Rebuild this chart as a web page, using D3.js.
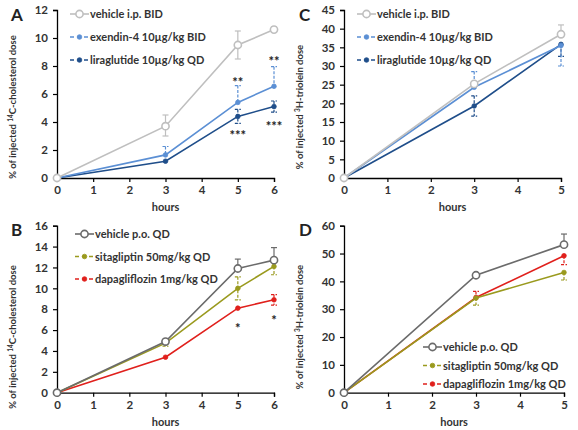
<!DOCTYPE html>
<html>
<head>
<meta charset="utf-8">
<script src="https://cdn.jsdelivr.net/npm/d3@7"></script>
<style>
  body { margin: 0; background: #fff; }
  svg { font-family: Lato, "Open Sans", sans-serif; }
</style>
</head>
<body>
<svg id="chart" width="578" height="430"></svg>
<script>
// hours sampled
const hoursCholesterol = [0, 3, 5, 6];
const hoursTriolein = [0, 3, 5];

// panel A: 14C-cholesterol, GLP-1 agonists
const aVehicle = [0, 3.7, 9.5, 10.6];
const aVehicleHi = [0, 0.8, 1.0, 0.2];
const aVehicleLo = [0, 0.7, 1.0, 0];
const aExendin = [0, 1.65, 5.4, 6.55];
const aExendinHi = [0, 0.6, 1.2, 1.4];
const aExendinLo = [0, 0, 0, 0];
const aLira = [0, 1.2, 4.4, 5.1];
const aLiraHi = [0, 0, 0.5, 0.4];
const aLiraLo = [0, 0, 0.5, 0.4];

// panel C: 3H-triolein, GLP-1 agonists
const cVehicle = [0, 25.2, 38.5];
const cVehicleHi = [0, 0, 2.5];
const cVehicleLo = [0, 0, 0];
const cExendin = [0, 24.3, 35.5];
const cExendinHi = [0, 4.2, 0];
const cExendinLo = [0, 0, 5.5];
const cLira = [0, 19.3, 35.8];
const cLiraHi = [0, 2.7, 0];
const cLiraLo = [0, 2.7, 3.2];

// panel B: 14C-cholesterol, oral drugs
const bVehicle = [0, 4.9, 11.9, 12.7];
const bVehicleHi = [0, 0.2, 0.9, 1.2];
const bVehicleLo = [0, 0, 0, 0];
const bSita = [0, 4.75, 10.0, 12.1];
const bSitaHi = [0, 0, 1.1, 0];
const bSitaLo = [0, 0.3, 1.1, 0.8];
const bDapa = [0, 3.4, 8.1, 8.9];
const bDapaHi = [0, 0, 0, 0.5];
const bDapaLo = [0, 0, 0, 0.5];

// panel D: 3H-triolein, oral drugs
const dVehicle = [0, 42.2, 53.2];
const dVehicleHi = [0, 0, 3.8];
const dVehicleLo = [0, 0, 0];
const dSita = [0, 34.0, 43.2];
const dSitaHi = [0, 0, 0];
const dSitaLo = [0, 2.5, 2.7];
const dDapa = [0, 34.2, 49.2];
const dDapaHi = [0, 2.2, 0];
const dDapaLo = [0, 0, 3.2];

// tick labels
const ticksA = [0, 2, 4, 6, 8, 10, 12];
const ticksB = [0, 2, 4, 6, 8, 10, 12, 14, 16];
const ticksC = [0, 5, 10, 15, 20, 25, 30, 35, 40, 45];
const ticksD = [0, 10, 20, 30, 40, 50, 60];
const ticksHours6 = [0, 1, 2, 3, 4, 5, 6];
const ticksHours5 = [0, 1, 2, 3, 4, 5];

// significance marks: [hour, y value at centre, text]
const starsA = [[5, 7.07, "**"], [6, 8.57, "**"], [5, 3.29, "***"], [6, 3.93, "***"]];
const starsB = [[5, 6.49, "*"], [6, 7.25, "*"]];

const col = {
  vehGlp: "#bfbfbf", exendin: "#5b8fd4", lira: "#1f4e8a",
  vehOral: "#6b6b6b", sita: "#9a9a1e", dapa: "#e0201c"
};

const svg = d3.select("#chart");

function panel(opt) {
  const g = svg.append("g");
  const x = d3.scaleLinear().domain(opt.xDomain).range(opt.xRange);
  const y = d3.scaleLinear().domain(opt.yDomain).range(opt.yRange);

  const yAxis = g.append("g")
    .attr("transform", `translate(${opt.xRange[0]},0)`)
    .call(d3.axisLeft(y).tickValues(opt.yTicks).tickFormat(d3.format("d"))
      .tickSize(4).tickPadding(5));
  const xAxis = g.append("g")
    .attr("transform", `translate(0,${opt.yRange[0]})`)
    .call(d3.axisBottom(x).tickValues(opt.xTicks).tickFormat(d3.format("d"))
      .tickSize(4).tickPadding(4));
  [xAxis, yAxis].forEach(a => {
    a.select(".domain").attr("stroke", "#000").attr("stroke-width", 1.3);
    a.selectAll(".tick line").attr("stroke", "#000").attr("stroke-width", 1.2);
    a.selectAll(".tick text")
      .attr("fill", "#333").attr("font-size", 11.5).attr("font-weight", 700)
      .attr("font-family", "Lato, sans-serif");
  });

  // axis titles
  g.append("text")
    .attr("x", (opt.xRange[0] + opt.xRange[1]) / 2)
    .attr("y", opt.yRange[0] + 33)
    .attr("text-anchor", "middle")
    .attr("font-size", 11).attr("font-weight", 700).attr("fill", "#333")
    .text("hours");

  const yl = g.append("text")
    .attr("transform", `translate(${opt.yLabelX},${opt.yLabelY}) rotate(-90)`)
    .attr("text-anchor", "middle")
    .attr("font-size", 9.5).attr("font-weight", 700).attr("fill", "#333");
  yl.append("tspan").text("% of injected ");
  yl.append("tspan").attr("font-size", 6.5).attr("dy", -3.5).text(opt.isotope);
  yl.append("tspan").attr("dy", 3.5).text(opt.compound + " dose");

  g.append("text")
    .attr("x", opt.letterX).attr("y", opt.letterY)
    .attr("font-size", 17).attr("font-weight", 700).attr("fill", "#222")
    .attr("font-family", "Lato, sans-serif")
    .text(opt.letter);

  // series drawn back to front
  const line = d3.line().x(d => x(d[0])).y(d => y(d[1]));
  opt.series.slice().reverse().forEach(s => {
    const pts = opt.hours.map((h, i) => [h, s.values[i], s.hi[i], s.lo[i]]);
    g.append("path")
      .datum(pts)
      .attr("fill", "none").attr("stroke", s.color).attr("stroke-width", 1.6)
      .attr("d", line);

    const eb = g.append("g").attr("stroke", s.color).attr("stroke-width", 1.2)
      .attr("stroke-dasharray", s.hollow ? null : "3,1.5");
    pts.filter(p => p[2] > 0 || p[3] > 0).forEach(p => {
      const top = p[1] + p[2], bot = p[1] - p[3];
      eb.append("line")
        .attr("x1", x(p[0])).attr("x2", x(p[0]))
        .attr("y1", y(top)).attr("y2", y(bot));
      [top, bot].filter(v => v !== p[1]).forEach(v => {
        eb.append("line")
          .attr("x1", x(p[0]) - 3).attr("x2", x(p[0]) + 3)
          .attr("y1", y(v)).attr("y2", y(v))
          .attr("stroke-dasharray", null);
      });
    });

    g.selectAll(null).data(pts).join("circle")
      .attr("cx", d => x(d[0])).attr("cy", d => y(d[1]))
      .attr("r", s.hollow ? 3.6 : 2.3)
      .attr("fill", s.hollow ? "#fff" : s.color)
      .attr("stroke", s.color).attr("stroke-width", s.hollow ? 1.6 : 0.8);
  });

  // significance stars (asterisks sit high in the em box, so push down)
  (opt.stars || []).forEach(st => {
    g.append("text")
      .attr("x", x(st[0])).attr("y", y(st[1]) + 8)
      .attr("text-anchor", "middle")
      .attr("font-size", 13).attr("font-weight", 700).attr("fill", "#222")
      .text(st[2]);
  });

  // legend
  opt.series.forEach((s, i) => {
    const ly = opt.legendY + i * opt.legendGap;
    const lx = opt.legendX;
    g.append("line")
      .attr("x1", lx).attr("x2", lx + 19).attr("y1", ly).attr("y2", ly)
      .attr("stroke", s.color).attr("stroke-width", 1.6)
      .attr("stroke-dasharray", s.hollow ? null : "4,3");
    g.append("circle")
      .attr("cx", lx + 9.5).attr("cy", ly)
      .attr("r", s.hollow ? 3.6 : 2.3)
      .attr("fill", s.hollow ? "#fff" : s.color)
      .attr("stroke", s.color).attr("stroke-width", s.hollow ? 1.6 : 0.8);
    g.append("text")
      .attr("x", lx + 20).attr("y", ly + 4)
      .attr("font-size", 11).attr("font-weight", 700).attr("fill", "#333")
      .text(s.name);
  });
}

panel({
  letter: "A", letterX: 11, letterY: 21,
  hours: hoursCholesterol, xDomain: [0, 6], xRange: [57, 274], xTicks: ticksHours6,
  yDomain: [0, 12], yRange: [178, 10], yTicks: ticksA,
  yLabelX: 16, yLabelY: 107, isotope: "14", compound: "C-cholesterol",
  legendX: 70, legendY: 14, legendGap: 23,
  stars: starsA,
  series: [
    { name: "vehicle i.p. BID", values: aVehicle, hi: aVehicleHi, lo: aVehicleLo, color: col.vehGlp, hollow: true },
    { name: "exendin-4 10µg/kg BID", values: aExendin, hi: aExendinHi, lo: aExendinLo, color: col.exendin },
    { name: "liraglutide 10µg/kg QD", values: aLira, hi: aLiraHi, lo: aLiraLo, color: col.lira }
  ]
});

panel({
  letter: "C", letterX: 299, letterY: 21,
  hours: hoursTriolein, xDomain: [0, 5], xRange: [344, 561], xTicks: ticksHours5,
  yDomain: [0, 45], yRange: [178, 10], yTicks: ticksC,
  yLabelX: 303, yLabelY: 107, isotope: "3", compound: "H-triolein",
  legendX: 357, legendY: 14, legendGap: 23,
  series: [
    { name: "vehicle i.p. BID", values: cVehicle, hi: cVehicleHi, lo: cVehicleLo, color: col.vehGlp, hollow: true },
    { name: "exendin-4 10µg/kg BID", values: cExendin, hi: cExendinHi, lo: cExendinLo, color: col.exendin },
    { name: "liraglutide 10µg/kg QD", values: cLira, hi: cLiraHi, lo: cLiraLo, color: col.lira }
  ]
});

panel({
  letter: "B", letterX: 11, letterY: 236,
  hours: hoursCholesterol, xDomain: [0, 6], xRange: [57, 274], xTicks: ticksHours6,
  yDomain: [0, 16], yRange: [392.7, 225.7], yTicks: ticksB,
  yLabelX: 16, yLabelY: 337, isotope: "14", compound: "C-cholesterol",
  legendX: 75, legendY: 234, legendGap: 22.5,
  stars: starsB,
  series: [
    { name: "vehicle p.o. QD", values: bVehicle, hi: bVehicleHi, lo: bVehicleLo, color: col.vehOral, hollow: true },
    { name: "sitagliptin 50mg/kg QD", values: bSita, hi: bSitaHi, lo: bSitaLo, color: col.sita },
    { name: "dapagliflozin 1mg/kg QD", values: bDapa, hi: bDapaHi, lo: bDapaLo, color: col.dapa }
  ]
});

panel({
  letter: "D", letterX: 299, letterY: 236,
  hours: hoursTriolein, xDomain: [0, 5], xRange: [344, 564], xTicks: ticksHours5,
  yDomain: [0, 60], yRange: [392.7, 225.7], yTicks: ticksD,
  yLabelX: 303, yLabelY: 327, isotope: "3", compound: "H-triolein",
  legendX: 423, legendY: 347, legendGap: 18.5,
  series: [
    { name: "vehicle p.o. QD", values: dVehicle, hi: dVehicleHi, lo: dVehicleLo, color: col.vehOral, hollow: true },
    { name: "sitagliptin 50mg/kg QD", values: dSita, hi: dSitaHi, lo: dSitaLo, color: col.sita },
    { name: "dapagliflozin 1mg/kg QD", values: dDapa, hi: dDapaHi, lo: dDapaLo, color: col.dapa }
  ]
});
</script>
</body>
</html>
